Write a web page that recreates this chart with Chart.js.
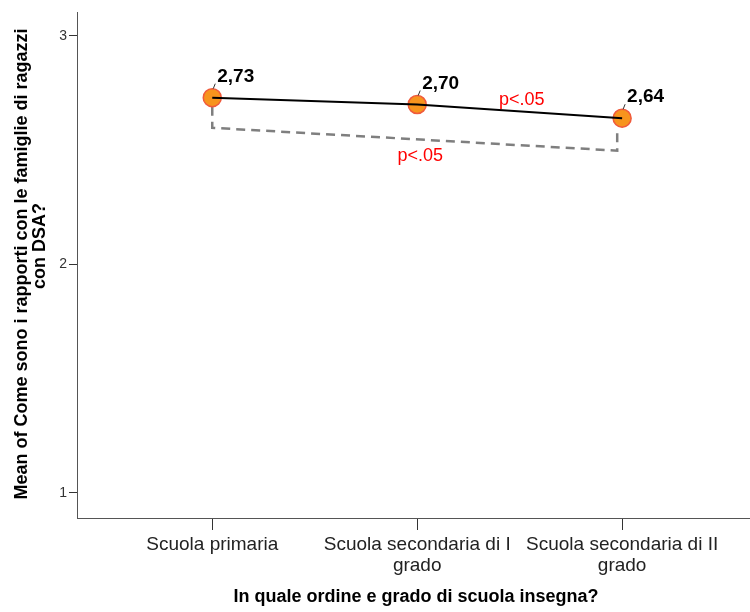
<!DOCTYPE html>
<html>
<head>
<meta charset="utf-8">
<script src="https://cdn.jsdelivr.net/npm/chart.js@4"></script>
<style>
  html, body { margin: 0; padding: 0; background: #fff; }
  #wrap { width: 750px; height: 612px; position: relative; }
</style>
</head>
<body>
<div id="wrap"><canvas id="c" width="750" height="612"></canvas></div>
<script>
// ---- Data ----
const categories = [
  ["Scuola primaria"],
  ["Scuola secondaria di I", "grado"],
  ["Scuola secondaria di II", "grado"]
];
const categoryPositions = [1, 2, 3];
const means = [2.73, 2.70, 2.64];
const meanLabels = ["2,73", "2,70", "2,64"];
const yTicks = [1, 2, 3];
// bracket comparing group 1 vs group 3 (dashed), in data units
const bracketX = [1, 1, 2.976, 2.976];
const bracketY = [2.69, 2.598, 2.498, 2.58];
const sigLabels = ["p<.05", "p<.05"];
const sigLabelPos = [[2.51, 2.72], [2.015, 2.475]];
const yTitle = ["Mean of Come sono i rapporti con le famiglie di ragazzi", "con DSA?"];
const xTitle = "In quale ordine e grado di scuola insegna?";

const FONT = "'Liberation Sans', Arial, sans-serif";

const overlay = {
  id: 'overlay',
  afterDatasetsDraw(chart) {
    const ctx = chart.ctx;
    const xs = chart.scales.x, ys = chart.scales.y;
    ctx.save();
    ctx.font = "bold 19px " + FONT;
    ctx.fillStyle = "#000";
    ctx.textAlign = "left";
    ctx.textBaseline = "alphabetic";
    for (let i = 0; i < means.length; i++) {
      const px = xs.getPixelForValue(categoryPositions[i]);
      const py = ys.getPixelForValue(means[i]);
      ctx.strokeStyle = "#333";
      ctx.lineWidth = 1;
      ctx.beginPath();
      ctx.moveTo(px + 1, py - 9);
      ctx.lineTo(px + 3, py - 14);
      ctx.stroke();
      ctx.fillText(meanLabels[i], px + 5, py - 16);
    }
    ctx.font = "18px " + FONT;
    ctx.fillStyle = "#ff0000";
    ctx.textAlign = "center";
    ctx.textBaseline = "middle";
    for (let i = 0; i < sigLabels.length; i++) {
      ctx.fillText(sigLabels[i], xs.getPixelForValue(sigLabelPos[i][0]), ys.getPixelForValue(sigLabelPos[i][1]));
    }
    ctx.restore();
  },
  afterDraw(chart) {
    const ctx = chart.ctx;
    ctx.save();
    ctx.fillStyle = "#000";
    ctx.font = "bold 18px " + FONT;
    ctx.textAlign = "center";
    ctx.textBaseline = "middle";
    ctx.fillText(xTitle, 416, 597);
    ctx.translate(22, 0);
    ctx.rotate(-Math.PI / 2);
    ctx.fillText(yTitle[0], -264, 0);
    ctx.fillText(yTitle[1], -246, 18);
    ctx.restore();
  }
};

new Chart(document.getElementById('c'), {
  type: 'scatter',
  data: {
    datasets: [
      {
        label: 'line',
        type: 'line',
        data: categoryPositions.map((x, i) => ({x: x, y: means[i]})),
        borderColor: '#000',
        borderWidth: 2,
        pointRadius: 0,
        fill: false,
        tension: 0,
        order: 1
      },
      {
        label: 'bracket',
        type: 'line',
        data: bracketX.map((x, i) => ({x: x, y: bracketY[i]})),
        borderColor: '#7f7f7f',
        borderWidth: 2.5,
        borderDash: [9, 6],
        pointRadius: 0,
        fill: false,
        tension: 0,
        order: 3
      },
      {
        label: 'points',
        data: categoryPositions.map((x, i) => ({x: x, y: means[i]})),
        backgroundColor: '#f7941d',
        borderColor: '#f05a3c',
        borderWidth: 1.5,
        pointRadius: 9,
        order: 2
      }
    ]
  },
  options: {
    responsive: false,
    animation: false,
    devicePixelRatio: 1,
    layout: { autoPadding: false, padding: { top: 12, right: 0, bottom: 0, left: 0 } },
    plugins: { legend: { display: false }, tooltip: { enabled: false } },
    scales: {
      x: {
        type: 'linear',
        min: 0.34,
        max: 3.624,
        afterBuildTicks(scale) { scale.ticks = categoryPositions.map(v => ({value: v})); },
        afterFit(scale) { scale.height = 94; scale.paddingLeft = 0; scale.paddingRight = 0; },
        border: { display: true, color: '#555', width: 1 },
        grid: { display: true, drawOnChartArea: false, drawTicks: true, tickLength: 12, color: '#333', lineWidth: 1 },
        ticks: {
          autoSkip: false,
          maxRotation: 0,
          padding: 4,
          color: '#222',
          font: { family: FONT, size: 19, lineHeight: 1.1 },
          callback(v) { const i = categoryPositions.indexOf(v); return i >= 0 ? categories[i] : ''; }
        }
      },
      y: {
        type: 'linear',
        min: 0.89,
        max: 3.105,
        afterBuildTicks(scale) { scale.ticks = yTicks.map(v => ({value: v})); },
        afterFit(scale) { scale.width = 77; scale.paddingTop = 0; scale.paddingBottom = 0; },
        border: { display: true, color: '#555', width: 1 },
        grid: { display: true, drawOnChartArea: false, drawTicks: true, tickLength: 8, color: '#333', lineWidth: 1 },
        ticks: {
          padding: 2,
          color: '#333',
          font: { family: FONT, size: 14 },
          callback(v) { return String(v); }
        }
      }
    }
  },
  plugins: [overlay]
});
</script>
</body>
</html>
